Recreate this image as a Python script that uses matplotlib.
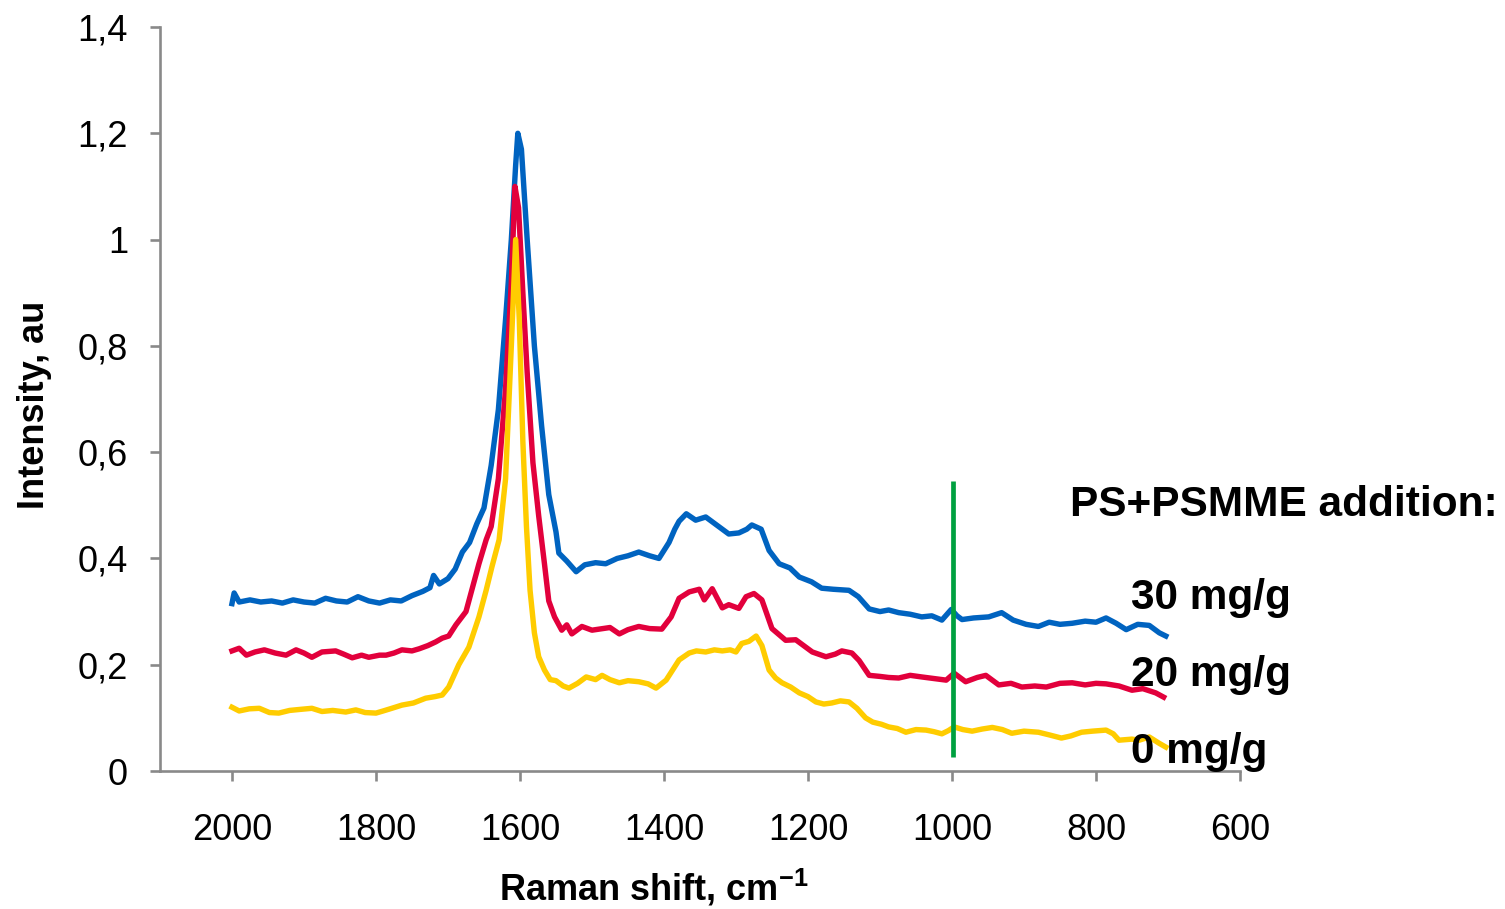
import matplotlib
matplotlib.use("Agg")
import matplotlib.pyplot as plt
from matplotlib.ticker import FixedLocator, FuncFormatter

plt.rcParams['font.family'] = ['Liberation Sans', 'DejaVu Sans']
plt.rcParams['mathtext.fontset'] = 'custom'
plt.rcParams['mathtext.rm'] = 'Liberation Sans'
plt.rcParams['mathtext.bf'] = 'Liberation Sans:bold'

# --- spectra (Raman shift, cm-1 / intensity, au) ---
wn_30 = [2000, 1997, 1990, 1975, 1960, 1945, 1930, 1915, 1900, 1885, 1870, 1855,
         1840, 1825, 1810, 1795, 1780, 1765, 1750, 1735, 1725, 1720, 1712, 1700,
         1690, 1680, 1670, 1660, 1650, 1640, 1630, 1620, 1612, 1606, 1603, 1598,
         1590, 1580, 1570, 1560, 1550, 1546, 1535, 1522, 1510, 1495, 1481, 1465,
         1450, 1435, 1420, 1407, 1400, 1393, 1385, 1379, 1369, 1356, 1342, 1332,
         1324, 1310, 1296, 1285, 1278, 1265, 1254, 1240, 1225, 1212, 1195, 1181,
         1165, 1143, 1130, 1115, 1100, 1088, 1074, 1058, 1042, 1028, 1014, 1001,
         993, 986, 970, 949, 931, 915, 897, 880, 865, 850, 833, 815, 800, 786,
         772, 758, 742, 726, 712, 703]
int_30 = [0.315, 0.335, 0.318, 0.322, 0.318, 0.320, 0.316, 0.322, 0.318, 0.316, 0.325, 0.320,
          0.318, 0.328, 0.320, 0.316, 0.322, 0.320, 0.330, 0.338, 0.345, 0.368, 0.352, 0.362,
          0.380, 0.412, 0.430, 0.465, 0.495, 0.575, 0.680, 0.850, 1.000, 1.140, 1.200, 1.170,
          1.000, 0.800, 0.650, 0.520, 0.450, 0.410, 0.395, 0.375, 0.388, 0.392, 0.390, 0.400,
          0.405, 0.412, 0.405, 0.400, 0.415, 0.430, 0.455, 0.470, 0.484, 0.472, 0.478, 0.468,
          0.460, 0.446, 0.448, 0.455, 0.463, 0.455, 0.415, 0.390, 0.382, 0.365, 0.356, 0.344,
          0.342, 0.340, 0.328, 0.305, 0.300, 0.303, 0.298, 0.295, 0.290, 0.292, 0.284, 0.304,
          0.292, 0.285, 0.288, 0.290, 0.298, 0.284, 0.276, 0.272, 0.280, 0.276, 0.278, 0.282,
          0.280, 0.288, 0.278, 0.266, 0.276, 0.274, 0.260, 0.254]

wn_20 = [2000, 1990, 1980, 1968, 1955, 1940, 1925, 1911, 1900, 1889, 1875, 1856,
         1845, 1833, 1820, 1810, 1795, 1786, 1775, 1764, 1750, 1740, 1728, 1717,
         1708, 1699, 1689, 1675, 1667, 1657, 1647, 1640, 1630, 1620, 1612, 1607,
         1602, 1596, 1590, 1582, 1574, 1566, 1560, 1552, 1542, 1535, 1528, 1514,
         1500, 1490, 1475, 1462, 1450, 1435, 1420, 1403, 1390, 1379, 1365, 1351,
         1344, 1333, 1319, 1310, 1296, 1286, 1275, 1264, 1250, 1231, 1217, 1205,
         1194, 1175, 1162, 1153, 1139, 1129, 1115, 1100, 1088, 1074, 1058, 1042,
         1025, 1008, 997, 981, 965, 953, 935, 918, 903, 885, 869, 850, 833, 815,
         800, 786, 768, 750, 735, 717, 706]
int_20 = [0.226, 0.231, 0.218, 0.224, 0.228, 0.222, 0.218, 0.228, 0.222, 0.214, 0.224, 0.226,
          0.220, 0.213, 0.218, 0.214, 0.218, 0.218, 0.222, 0.228, 0.226, 0.230, 0.236, 0.243,
          0.250, 0.254, 0.275, 0.300, 0.340, 0.390, 0.435, 0.460, 0.550, 0.720, 0.920, 1.100,
          1.060, 0.900, 0.750, 0.580, 0.480, 0.390, 0.320, 0.290, 0.265, 0.275, 0.258, 0.272,
          0.265, 0.267, 0.270, 0.258, 0.266, 0.272, 0.268, 0.267, 0.290, 0.325, 0.337, 0.342,
          0.322, 0.343, 0.307, 0.313, 0.306, 0.328, 0.334, 0.322, 0.268, 0.246, 0.247, 0.235,
          0.224, 0.215, 0.220, 0.226, 0.222, 0.208, 0.180, 0.178, 0.176, 0.175, 0.180, 0.177,
          0.174, 0.171, 0.184, 0.168, 0.176, 0.180, 0.162, 0.165, 0.158, 0.160, 0.158, 0.165,
          0.166, 0.162, 0.165, 0.164, 0.160, 0.152, 0.155, 0.147, 0.139]

wn_0 = [2000, 1990, 1976, 1962, 1948, 1935, 1920, 1905, 1889, 1875, 1860, 1842,
        1828, 1815, 1800, 1790, 1778, 1764, 1748, 1731, 1718, 1708, 1699, 1685,
        1671, 1657, 1647, 1639, 1629, 1620, 1612, 1606, 1601, 1596, 1591, 1586,
        1580, 1574, 1566, 1558, 1550, 1540, 1532, 1520, 1508, 1495, 1486, 1475,
        1462, 1450, 1435, 1422, 1411, 1397, 1388, 1379, 1365, 1355, 1342, 1330,
        1319, 1308, 1300, 1292, 1282, 1272, 1264, 1254, 1245, 1236, 1224, 1212,
        1200, 1189, 1178, 1167, 1155, 1143, 1132, 1120, 1110, 1098, 1088, 1076,
        1064, 1050, 1036, 1025, 1014, 1005, 997, 985, 972, 958, 944, 930, 917,
        900, 880, 865, 848, 835, 820, 805, 786, 776, 768, 750, 740, 726, 712, 703]
int_0 = [0.120, 0.113, 0.117, 0.118, 0.110, 0.109, 0.114, 0.116, 0.118, 0.112, 0.114, 0.111,
         0.115, 0.110, 0.109, 0.113, 0.118, 0.124, 0.128, 0.137, 0.140, 0.143, 0.158, 0.200,
         0.233, 0.290, 0.340, 0.384, 0.435, 0.550, 0.800, 1.000, 0.850, 0.620, 0.460, 0.340,
         0.260, 0.215, 0.190, 0.172, 0.170, 0.160, 0.156, 0.165, 0.177, 0.172, 0.180, 0.172,
         0.166, 0.170, 0.168, 0.164, 0.156, 0.171, 0.190, 0.209, 0.222, 0.226, 0.224, 0.228,
         0.226, 0.228, 0.224, 0.240, 0.244, 0.254, 0.236, 0.190, 0.175, 0.166, 0.158, 0.147,
         0.140, 0.130, 0.126, 0.128, 0.132, 0.130, 0.118, 0.100, 0.092, 0.088, 0.083, 0.080,
         0.073, 0.078, 0.077, 0.074, 0.070, 0.076, 0.083, 0.078, 0.075, 0.079, 0.082, 0.078, 0.071,
         0.075, 0.073, 0.068, 0.062, 0.066, 0.073, 0.075, 0.077, 0.070, 0.058, 0.060, 0.058, 0.064,
         0.052, 0.045]

series_labels = ['30 mg/g', '20 mg/g', '0 mg/g']
series_colors = ['#0063C0', '#E2003C', '#FFCC00']

# green marker line near 1000 cm-1
mark_wn = 998
mark_lo, mark_hi = 0.026, 0.546

x_ticks = [2000, 1800, 1600, 1400, 1200, 1000, 800, 600]
y_ticks = [0, 0.2, 0.4, 0.6, 0.8, 1.0, 1.2, 1.4]

AXIS_GREY = '#898989'

fig = plt.figure(figsize=(15.05, 9.09), dpi=100)
ax = fig.add_axes([0.1063, 0.1518, 0.7176, 0.8185])

for wn, val, col in zip([wn_30, wn_20, wn_0], [int_30, int_20, int_0], series_colors):
    ax.plot(wn, val, color=col, linewidth=3.9, solid_joinstyle='round')

ax.vlines(mark_wn, mark_lo, mark_hi, color='#00A040', linewidth=3.4, zorder=5)

ax.set_xlim(2100, 600)
ax.set_ylim(0, 1.4)
ax.xaxis.set_major_locator(FixedLocator(x_ticks))
ax.yaxis.set_major_locator(FixedLocator(y_ticks))
ax.yaxis.set_major_formatter(FuncFormatter(lambda v, p: f"{round(v, 1):g}".replace('.', ',')))

for side in ['top', 'right']:
    ax.spines[side].set_visible(False)
for side in ['left', 'bottom']:
    ax.spines[side].set_color(AXIS_GREY)
    ax.spines[side].set_linewidth(1.9)

ax.tick_params(axis='both', direction='out', length=7, width=1.9, color=AXIS_GREY,
               labelsize=26, labelcolor='black')
ax.tick_params(axis='x', pad=23)
ax.tick_params(axis='y', pad=16)

ax.set_xlabel(r'Raman shift, cm$^{\mathbf{-1}}$', fontsize=26, fontweight='bold')
ax.xaxis.set_label_coords(0.457, -0.157)
ax.xaxis.label.set_va('center')
ax.set_ylabel('Intensity, au', fontsize=26, fontweight='bold')
ax.yaxis.set_label_coords(-0.116, 0.492)
ax.yaxis.label.set_va('center')

# legend-like annotations on the right
fig.text(1070 / 1505, 1 - 505 / 909, 'PS+PSMME addition:', fontsize=30.5,
         fontweight='bold', va='center', ha='left')
for lab, ypix in zip(series_labels, [598, 675, 752]):
    fig.text(1131 / 1505, 1 - ypix / 909, lab, fontsize=30.5, fontweight='bold',
             va='center', ha='left')

fig.savefig('out.png', dpi=100)
